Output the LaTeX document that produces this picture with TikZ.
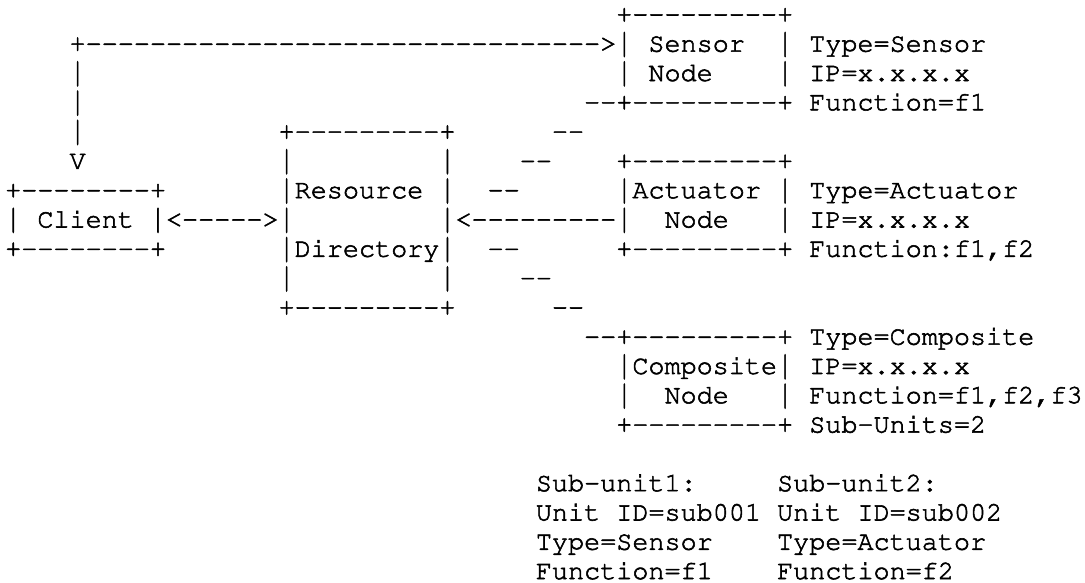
\documentclass[tikz,border=0pt]{standalone}
\usepackage[T1,TU]{fontenc}
\usepackage{graphicx}
\usepackage{tikz}
\newcommand{\asciifont}{\fontencoding{T1}\fontfamily{pcr}\fontseries{m}\fontshape{n}\fontsize{26.8}{29.3}\selectfont}
\newcommand{\dd}[1]{\foreach \dn in {1,...,#1}{-}}
% taller bar, as in the drawing
\newcommand{\vb}{\smash{\raisebox{-0.04em}{\scalebox{1}[1.28]{|}}}}

\begin{document}
\begin{tikzpicture}[x=16.08pt,y=-29.3pt,
  ascii/.style={font=\asciifont,inner sep=0pt,outer sep=0pt,anchor=base west,
    execute at begin node={\special{pdf:literal direct 2 Tr 0.55 w}}}]
  \useasboundingbox (-0.327,-0.7645) rectangle (67.15,19.133);
  % client side
  \node[ascii] (cTop)  at (0,6) {+\dd{8}+};
  \node[ascii] (cName) at (0,7) {\vb~Client~\vb};
  \node[ascii] (cBot)  at (0,8) {+\dd{8}+};
  \node[ascii] (pollA) at (4,1) {+\dd{32}>};
  \node[ascii] (pollB) at (4,2) {\vb};
  \node[ascii] (pollC) at (4,3) {\vb};
  \node[ascii] (pollD) at (4,4) {\vb};
  \node[ascii] (pollV) at (4,5) {V};
  \node[ascii] (cArrow) at (10,7) {<\dd{5}>};
  % resource directory
  \node[ascii] (rdTop) at (17,4) {+\dd{9}+};
  \node[ascii] (rdA)   at (17,5) {\vb~~~~~~~~~\vb};
  \node[ascii] (rdB)   at (17,6) {\vb Resource~\vb};
  \node[ascii] (rdC)   at (17,7) {\vb~~~~~~~~~\vb};
  \node[ascii] (rdD)   at (17,8) {\vb Directory\vb};
  \node[ascii] (rdE)   at (17,9) {\vb~~~~~~~~~\vb};
  \node[ascii] (rdBot) at (17,10) {+\dd{9}+};
  \node[ascii] (aArrow) at (28,7) {<\dd{9}};
  % links
  \node[ascii] (lnkA) at (34,4) {\dd{2}};
  \node[ascii] (lnkB) at (32,5) {\dd{2}};
  \node[ascii] (lnkC) at (30,6) {\dd{2}};
  \node[ascii] (lnkD) at (30,8) {\dd{2}};
  \node[ascii] (lnkE) at (32,9) {\dd{2}};
  \node[ascii] (lnkF) at (34,10) {\dd{2}};
  % sensor node
  \node[ascii] (sTop)  at (38,0) {+\dd{9}+};
  \node[ascii] (sName) at (38,1) {\vb~Sensor~~\vb};
  \node[ascii] (sNode) at (38,2) {\vb~Node~~~~\vb};
  \node[ascii] (sBot)  at (36,3) {\dd{2}+\dd{9}+};
  \node[ascii] (sType) at (50,1) {Type=Sensor};
  \node[ascii] (sIP)   at (50,2) {IP=x.x.x.x};
  \node[ascii] (sFun)  at (50,3) {Function=f1};
  % actuator node
  \node[ascii] (aTop)  at (38,5) {+\dd{9}+};
  \node[ascii] (aName) at (38,6) {\vb Actuator~\vb};
  \node[ascii] (aNode) at (38,7) {\vb~~Node~~~\vb};
  \node[ascii] (aBot)  at (38,8) {+\dd{9}+};
  \node[ascii] (aType) at (50,6) {Type=Actuator};
  \node[ascii] (aIP)   at (50,7) {IP=x.x.x.x};
  \node[ascii] (aFun)  at (50,8) {Function:f1,f2};
  % composite node
  \node[ascii] (xTop)  at (36,11) {\dd{2}+\dd{9}+};
  \node[ascii] (xName) at (38,12) {\vb Composite\vb};
  \node[ascii] (xNode) at (38,13) {\vb~~Node~~~\vb};
  \node[ascii] (xBot)  at (38,14) {+\dd{9}+};
  \node[ascii] (xType) at (50,11) {Type=Composite};
  \node[ascii] (xIP)   at (50,12) {IP=x.x.x.x};
  \node[ascii] (xFun)  at (50,13) {Function=f1,f2,f3};
  \node[ascii] (xSub)  at (50,14) {Sub-Units=2};
  % sub-units
  \node[ascii] (uA1) at (33,16) {Sub-unit1:};
  \node[ascii] (uA2) at (33,17) {Unit~ID=sub001};
  \node[ascii] (uA3) at (33,18) {Type=Sensor};
  \node[ascii] (uA4) at (33,19) {Function=f1};
  \node[ascii] (uB1) at (48,16) {Sub-unit2:};
  \node[ascii] (uB2) at (48,17) {Unit~ID=sub002};
  \node[ascii] (uB3) at (48,18) {Type=Actuator};
  \node[ascii] (uB4) at (48,19) {Function=f2};
\end{tikzpicture}
\end{document}
